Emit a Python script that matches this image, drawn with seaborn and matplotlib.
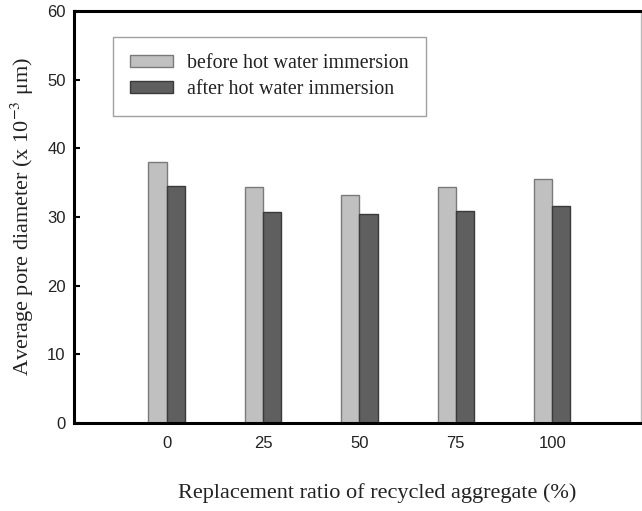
import matplotlib
matplotlib.use("Agg")
import matplotlib.pyplot as plt
import seaborn as sns
import pandas as pd

categories = ["0", "25", "50", "75", "100"]
before = [38.0, 34.4, 33.2, 34.3, 35.5]
after = [34.5, 30.8, 30.4, 30.9, 31.6]
series_names = ["before hot water immersion", "after hot water immersion"]

df = pd.DataFrame({
    "ratio": categories * 2,
    "value": before + after,
    "series": [series_names[0]] * len(categories) + [series_names[1]] * len(categories),
})

sns.set_theme(style="white")
plt.rcParams["mathtext.fontset"] = "stix"

fig = plt.figure(figsize=(6.42, 5.11), dpi=100)
ax = fig.add_axes([74 / 642, 88 / 511, 567 / 642, 412 / 511])

sns.barplot(data=df, x="ratio", y="value", hue="series", order=categories,
            hue_order=series_names, palette=["#c0c0c0", "#5f5f5f"],
            width=0.375, gap=0, ax=ax, errorbar=None, saturation=1)

edgecols = ["#7a7a7a", "#3a3a3a"]
for cont, ec in zip(ax.containers, edgecols):
    for p in cont:
        p.set_edgecolor(ec)
        p.set_linewidth(1.0)

ax.set_ylim(0, 60)
ax.set_xlim(-0.96, 4.92)
ax.set_yticks([0, 10, 20, 30, 40, 50, 60])

for lab in ax.get_xticklabels() + ax.get_yticklabels():
    lab.set_fontfamily("Liberation Sans")
    lab.set_fontsize(12)
    lab.set_color("#222222")

ax.tick_params(axis="both", direction="in", length=4, width=1.5, color="black",
               left=True, bottom=True)
ax.tick_params(axis="y", pad=6)
ax.tick_params(axis="x", pad=9)

for side in ["left", "top", "bottom"]:
    ax.spines[side].set_linewidth(2.2)
    ax.spines[side].set_color("black")
ax.spines["right"].set_linewidth(1.0)
ax.spines["right"].set_color("#bbbbbb")

ax.set_xlabel("Replacement ratio of recycled aggregate (%)",
              fontfamily="Liberation Serif", fontsize=16, labelpad=24, color="#222222")
ax.xaxis.set_label_coords((377 - 74) / 567, -(493 - 423) / 412)
ax.xaxis.label.set_verticalalignment("center")
ax.set_ylabel(r"Average pore diameter (x 10$^{-3}$ μm)",
              fontfamily="Liberation Serif", fontsize=16, labelpad=8, color="#222222")

leg = ax.legend(loc="upper left", bbox_to_anchor=(29 / 567, 1 - 16 / 412), frameon=True,
                fancybox=False, edgecolor="#888888", handlelength=2.15, handleheight=0.55,
                borderpad=0.85, labelspacing=0.35, handletextpad=0.7,
                prop={"family": "Liberation Serif", "size": 14.4}, title=None)
leg.get_frame().set_linewidth(1.0)
for h, ec in zip(leg.legend_handles, edgecols):
    h.set_edgecolor(ec)
    h.set_linewidth(1.0)
for t in leg.get_texts():
    t.set_color("#222222")

fig.savefig("out.png", dpi=100)
